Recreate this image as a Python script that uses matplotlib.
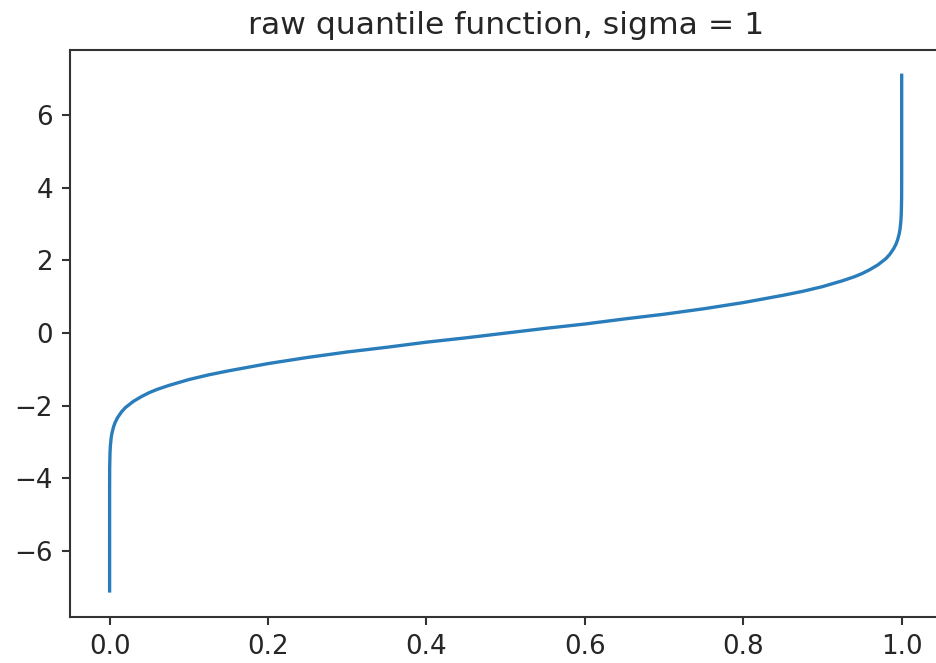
import numpy as np
import matplotlib
matplotlib.use("Agg")
import matplotlib.pyplot as plt

# values (probability -> quantile)
p_left = [0.0, 0.00001, 0.0001, 0.0005, 0.001, 0.002, 0.003, 0.005, 0.007,
          0.01, 0.015, 0.02, 0.03, 0.04, 0.05, 0.06, 0.075, 0.1, 0.125,
          0.15, 0.2, 0.25, 0.3, 0.35, 0.4, 0.45, 0.5]
q_left = [-7.1, -4.3, -3.7, -3.3, -3.1, -2.88, -2.75, -2.58, -2.46,
          -2.33, -2.17, -2.05, -1.88, -1.75, -1.64, -1.55, -1.44, -1.28, -1.15,
          -1.04, -0.84, -0.67, -0.52, -0.39, -0.25, -0.13, 0.0]

# right half mirrors the left half
p_right = [1.0 - p for p in reversed(p_left[:-1])]
q_right = [-q for q in reversed(q_left[:-1])]

prob = np.array(p_left + p_right)
quant = np.array(q_left + q_right)

s = 1.88  # scale from the notebook render to this figure
plt.rcParams.update({
    "font.size": 10 * s,
    "axes.linewidth": 0.8 * s,
    "xtick.major.width": 0.8 * s,
    "ytick.major.width": 0.8 * s,
    "xtick.major.size": 3.0 * s,
    "ytick.major.size": 3.0 * s,
    "xtick.major.pad": 3.5 * s,
    "ytick.major.pad": 3.5 * s,
    "xtick.color": "#333333",
    "ytick.color": "#333333",
    "xtick.labelcolor": "#262626",
    "ytick.labelcolor": "#262626",
    "axes.edgecolor": "#333333",
})

fig = plt.figure(figsize=(9.36, 6.63), dpi=100)
ax = fig.add_axes([70 / 936, 1 - 616.7 / 663, (941.3 - 70) / 936, (616.7 - 49.5) / 663])
ax.plot(prob, quant, color="#2a7dbb", linewidth=2.4)
ax.set_title("raw quantile function, sigma = 1", fontsize=12 * s, pad=6 * s, color="#262626")
fig.savefig("out.png", dpi=100)
